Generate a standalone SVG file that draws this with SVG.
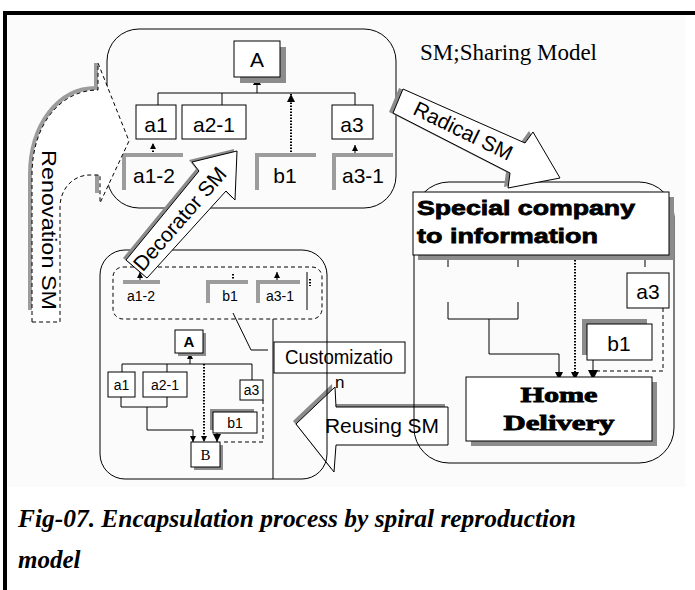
<svg xmlns="http://www.w3.org/2000/svg" width="695" height="590" viewBox="0 0 695 590">
<defs>
<style>
.g{font-family:"Liberation Sans",Arial,sans-serif;fill:#000}
.ser{font-family:"Liberation Serif","Times New Roman",serif;fill:#000}
.heavy{stroke:#000;stroke-width:0.8;paint-order:stroke}
.ln{fill:none;stroke:#000;stroke-width:1}
.box{fill:#fff;stroke:#000;stroke-width:1}
.sh{fill:#8c8c8c}
.gr{fill:none;stroke:#9c9c9c;stroke-width:4}
.dot{fill:none;stroke:#000;stroke-width:2;stroke-dasharray:1.5 1.5}
.dash{fill:none;stroke:#000;stroke-width:1;stroke-dasharray:4 3}
.cont{fill:none;stroke:#000;stroke-width:1}
.blk{fill:#fff;stroke:#000;stroke-width:1}
.blksh{fill:#8a8a8a}
</style>
<marker id="ah" viewBox="0 0 10 10" refX="10" refY="5" markerWidth="8" markerHeight="8" orient="auto" markerUnits="userSpaceOnUse"><path d="M0,0L10,5L0,10z"/></marker>
<marker id="ahs" viewBox="0 0 10 10" refX="10" refY="5" markerWidth="6" markerHeight="6" orient="auto" markerUnits="userSpaceOnUse"><path d="M0,0L10,5L0,10z"/></marker>
<marker id="ahl" viewBox="0 0 10 10" refX="10" refY="5" markerWidth="10" markerHeight="10" orient="auto" markerUnits="userSpaceOnUse"><path d="M0,0L10,5L0,10z"/></marker>
</defs>

<!-- page -->
<rect width="695" height="590" fill="#fff"/>
<rect x="8" y="15" width="677" height="472" fill="#fbfbfc"/>
<rect x="3" y="11" width="692" height="4" fill="#000"/>
<rect x="3" y="11" width="4" height="579" fill="#000"/>

<!-- Reusing SM block arrow -->
<g id="reusing-sm">
<polygon class="blksh" transform="translate(-3,-3)" points="448,407 336,407 335,387 296,424 334,472 336,445 448,445"/>
<polygon class="blk" points="448,407 336,407 335,387 296,424 334,472 336,445 448,445"/>
<text class="g" x="325" y="433" font-size="21" textLength="114" lengthAdjust="spacingAndGlyphs">Reusing SM</text>
</g>

<!-- Customization callout -->
<g id="customization">
<rect class="box" x="274" y="342" width="131" height="31"/>
<text class="g" x="285" y="364" font-size="21" textLength="108" lengthAdjust="spacingAndGlyphs">Customizatio</text>
<text class="g" x="335" y="388" font-size="17">n</text>
</g>

<!-- containers -->
<g id="containers">
<rect class="cont" x="107" y="29" width="289" height="179" rx="32"/>
<rect class="cont" x="414" y="182" width="260" height="281" rx="35"/>
<rect class="cont" x="100" y="250" width="227" height="229" rx="25"/>
</g>

<g id="connectors">
<!-- shared model -->
<path class="ln" d="M158,105V93H355V105M222,93V105"/>
<path class="ln" d="M257,93V77" marker-end="url(#ah)"/>
<path class="dot" d="M153,155V143" marker-end="url(#ahs)"/>
<path class="dot" d="M291,155V94" marker-end="url(#ah)"/>
<path class="ln" d="M355,155V145" marker-end="url(#ahs)"/>
<!-- special company -->
<path class="ln" d="M448,260V267M518,260V267M645,260V267"/>
<path class="ln" d="M448,302V319H518V302M489,319V354H559V380" marker-end="url(#ah)"/>
<path class="dot" d="M575,260V380" marker-end="url(#ah)"/>
<path class="dash" d="M663,308V371H597"/>
<path class="ln" stroke-width="2" d="M593,360V380" marker-end="url(#ahl)"/>
<!-- reused model -->
<path class="ln" d="M140,282V272" marker-end="url(#ahs)"/>
<path class="ln" d="M277,282V272" marker-end="url(#ahs)"/>
<path class="dot" stroke-width="1" d="M233,274V282"/>
<path class="ln" d="M307,272V310"/>
<path class="dot" stroke-width="1" d="M310,279V286"/>
<path class="ln" d="M122,372V364H252V380M167,364V372"/>
<path class="ln" d="M190,364V353" marker-end="url(#ahs)"/>
<path class="ln" d="M121,397V407H167V397M147,407V430H193V442" marker-end="url(#ahs)"/>
<path class="dot" d="M204,364V442" marker-end="url(#ahs)"/>
<path class="ln" stroke-width="1.5" d="M217,433V442" marker-end="url(#ah)"/>
<path class="dash" d="M263,400V442H221"/>
<path class="ln" d="M233,313L251,350H268M273,319V479"/>
</g>

<!-- shared model nodes -->
<g id="node-A">
<rect class="sh" x="240" y="47" width="46" height="36"/>
<rect class="box" x="234" y="41" width="46" height="36"/>
<text class="g" x="257" y="67" font-size="21" text-anchor="middle">A</text>
</g>
<g id="node-a1"><rect class="box" x="136" y="105" width="40" height="34"/><text class="g" x="156" y="132" font-size="21" text-anchor="middle">a1</text></g>
<g id="node-a2-1"><rect class="box" x="182" y="105" width="64" height="34"/><text class="g" x="214" y="132" font-size="21" text-anchor="middle">a2-1</text></g>
<g id="node-a3"><rect class="box" x="332" y="105" width="41" height="34"/><text class="g" x="352" y="132" font-size="21" text-anchor="middle">a3</text></g>
<g id="node-a1-2"><path class="gr" d="M124,190V155H183"/><text class="g" x="154" y="183" font-size="21" text-anchor="middle">a1-2</text></g>
<g id="node-b1"><path class="gr" d="M257,190V155H316"/><text class="g" x="285" y="183" font-size="21" text-anchor="middle">b1</text></g>
<g id="node-a3-1"><path class="gr" d="M334,190V155H393"/><text class="g" x="363" y="183" font-size="21" text-anchor="middle">a3-1</text></g>
<text id="legend" class="ser" x="420" y="60" font-size="23">SM;Sharing Model</text>

<!-- special company nodes -->
<g id="special-company">
<rect class="sh" x="418" y="197" width="256" height="63"/>
<rect class="box" x="413" y="192" width="256" height="63"/>
<text class="g heavy" x="417" y="215" font-size="21" font-weight="bold" textLength="218" lengthAdjust="spacingAndGlyphs">Special company</text>
<text class="g heavy" x="417" y="243" font-size="21" font-weight="bold" textLength="181" lengthAdjust="spacingAndGlyphs">to information</text>
</g>
<g id="sc-a3"><rect class="box" x="627" y="273" width="42" height="35"/><text class="g" x="648" y="299" font-size="21" text-anchor="middle">a3</text></g>
<g id="sc-b1"><rect class="sh" x="582" y="319" width="65" height="36"/><rect class="box" x="587" y="324" width="65" height="36"/><text class="g" x="619" y="351" font-size="21" text-anchor="middle">b1</text></g>
<g id="home-delivery">
<rect class="sh" x="471" y="382" width="186" height="64"/>
<rect class="box" x="466" y="377" width="186" height="64"/>
<text class="ser heavy" x="559" y="402" font-size="20" font-weight="bold" text-anchor="middle" textLength="77" lengthAdjust="spacingAndGlyphs">Home</text>
<text class="ser heavy" x="559" y="430" font-size="20" font-weight="bold" text-anchor="middle" textLength="111" lengthAdjust="spacingAndGlyphs">Delivery</text>
</g>

<!-- reused model nodes -->
<rect id="reused-group" class="dash" x="113" y="267" width="209" height="52" rx="10"/>
<g id="r-a1-2"><path class="gr" stroke-width="3" d="M123,282H160"/><text class="g" x="141" y="301" font-size="14" text-anchor="middle">a1-2</text></g>
<g id="r-b1"><path class="gr" stroke-width="3" d="M208,303V282H248"/><text class="g" x="230" y="301" font-size="14" text-anchor="middle">b1</text></g>
<g id="r-a3-1"><path class="gr" stroke-width="3" d="M258,303V282H300"/><text class="g" x="280" y="301" font-size="14" text-anchor="middle">a3-1</text></g>
<g id="r-A"><rect class="sh" x="178" y="333" width="28" height="23"/><rect class="box" x="175" y="330" width="28" height="23"/><text class="g" x="189" y="347" font-size="15" font-weight="bold" text-anchor="middle">A</text></g>
<g id="r-a1"><rect class="box" x="108" y="372" width="27" height="25"/><text class="g" x="121.5" y="390" font-size="14" text-anchor="middle">a1</text></g>
<g id="r-a2-1"><rect class="box" x="143" y="372" width="44" height="25"/><text class="g" x="165" y="390" font-size="14" text-anchor="middle">a2-1</text></g>
<g id="r-a3"><rect class="box" x="240" y="380" width="23" height="20"/><text class="g" x="251.5" y="395" font-size="14" text-anchor="middle">a3</text></g>
<g id="r-b1b"><rect class="sh" x="210" y="409" width="44" height="21"/><rect class="box" x="213" y="412" width="44" height="21"/><text class="g" x="235" y="428" font-size="14" text-anchor="middle">b1</text></g>
<g id="r-B"><rect class="sh" x="194" y="445" width="29" height="25"/><rect class="box" x="191" y="442" width="29" height="25"/><text class="ser" x="205.5" y="460" font-size="15" text-anchor="middle">B</text></g>

<!-- Radical SM block arrow -->
<g id="radical-sm">
<polygon class="blksh" transform="translate(-4,-1)" points="403,89 525,143 533,132 560,178 508,188 510,173 393,113"/>
<polygon class="blk" points="403,89 525,143 533,132 560,178 508,188 510,173 393,113"/>
<text class="g" font-size="21" text-anchor="middle" transform="translate(463,131) rotate(26)" y="7">Radical SM</text>
</g>

<!-- Decorator SM block arrow -->
<g id="decorator-sm">
<polygon class="blksh" transform="translate(-3,-2)" points="237,151 192,162 199,171 126,260 147,278 226,191 235,200"/>
<polygon class="blk" points="237,151 192,162 199,171 126,260 147,278 226,191 235,200"/>
<text class="g" font-size="21" text-anchor="middle" transform="translate(180,219) rotate(-49)" y="7">Decorator SM</text>
</g>

<!-- Renovation SM curved arrow -->
<g id="renovation-sm">
<path fill="none" stroke="#9c9c9c" stroke-width="4" d="M30,310V175C30,125 58,88 96,88V63M97,175V193"/>
<path fill="#fff" stroke="#000" stroke-width="1" stroke-dasharray="4 3" d="M32,322V175C32,125 60,90 98,90V63L129,141L100,203V175H90C72,175 60,190 60,207V322Z"/>
<text class="g" font-size="21" transform="translate(42,150) rotate(90)" textLength="160" lengthAdjust="spacingAndGlyphs">Renovation SM</text>
</g>

<!-- caption -->
<text class="ser" x="18" y="527" font-size="25" font-weight="bold" font-style="italic" textLength="558" lengthAdjust="spacingAndGlyphs">Fig-07. Encapsulation process by spiral reproduction</text>
<text class="ser" x="18" y="568" font-size="25" font-weight="bold" font-style="italic">model</text>
</svg>
